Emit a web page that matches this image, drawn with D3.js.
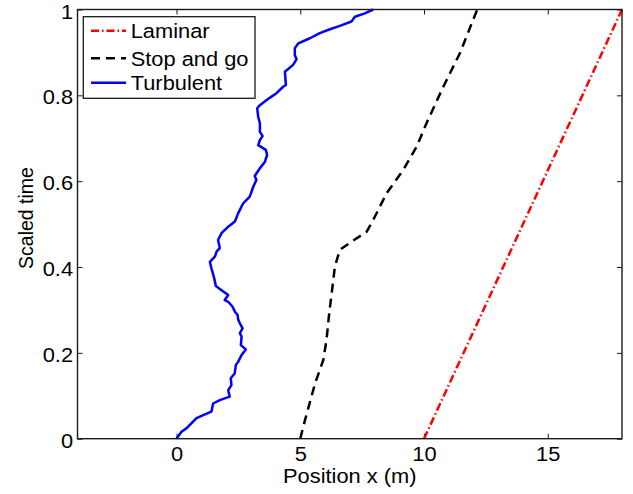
<!DOCTYPE html>
<html>
<head>
<meta charset="utf-8">
<script src="https://cdn.jsdelivr.net/npm/d3@7/dist/d3.min.js"></script>
<style>
  body { margin: 0; background: #fff; }
  svg { display: block; font-family: "Liberation Sans", Arial, Helvetica, sans-serif; }
</style>
</head>
<body>
<svg id="chart" width="633" height="494"></svg>
<script>
// series: [position x (m), scaled time]
var laminar = [[10, 0], [14, 0.5], [18, 1]];

var stopAndGo = [
    [5.0, 0], [5.19, 0.043], [5.60, 0.129], [5.93, 0.183], [6.06, 0.230], [6.17, 0.292],
    [6.27, 0.339], [6.40, 0.401], [6.60, 0.440], [7.07, 0.459], [7.68, 0.482], [7.95, 0.510],
    [8.49, 0.572], [9.16, 0.626], [9.70, 0.680], [10.10, 0.735], [10.78, 0.820], [11.45, 0.898],
    [12.15, 1.0]
];

var turbulent = [
    [0, 0], [0.20, 0.016], [0.40, 0.024], [0.67, 0.040], [0.81, 0.048], [1.08, 0.055],
    [1.41, 0.063], [1.48, 0.082], [1.75, 0.090], [2.15, 0.098], [2.09, 0.113], [2.22, 0.125],
    [2.19, 0.141], [2.35, 0.152], [2.40, 0.172], [2.49, 0.179], [2.63, 0.195], [2.80, 0.208],
    [2.60, 0.218], [2.63, 0.238], [2.56, 0.246], [2.67, 0.257], [2.56, 0.269], [2.49, 0.278],
    [2.47, 0.288], [2.36, 0.296], [2.26, 0.308], [2.09, 0.319], [1.95, 0.323], [2.09, 0.335],
    [1.82, 0.346], [1.59, 0.356], [1.51, 0.377], [1.41, 0.397], [1.35, 0.412], [1.55, 0.424],
    [1.62, 0.436], [1.75, 0.444], [1.68, 0.463], [1.82, 0.479], [2.09, 0.494], [2.36, 0.506],
    [2.49, 0.525], [2.69, 0.548], [2.96, 0.564], [3.10, 0.587], [3.23, 0.603], [3.16, 0.612],
    [3.37, 0.630], [3.57, 0.645], [3.66, 0.661], [3.61, 0.673], [3.30, 0.684], [3.37, 0.696],
    [3.48, 0.705], [3.37, 0.715], [3.37, 0.735], [3.30, 0.750], [3.26, 0.770], [3.37, 0.777],
    [3.64, 0.789], [3.84, 0.797], [4.04, 0.805], [4.31, 0.820], [4.42, 0.824], [4.38, 0.855],
    [4.71, 0.871], [4.85, 0.884], [4.78, 0.894], [4.78, 0.910], [4.92, 0.921], [5.39, 0.933],
    [5.79, 0.945], [6.20, 0.954], [6.60, 0.962], [7.07, 0.972], [7.21, 0.983], [7.61, 0.991],
    [7.95, 1.0]
];

var xTicks = [0, 5, 10, 15];
var yTicks = [0, 0.2, 0.4, 0.6, 0.8, 1];

var seriesNames = ["Laminar", "Stop and go", "Turbulent"];
var seriesColors = ["#ff0000", "#000000", "#0000ff"];
var seriesDash = ["8,3,1.5,3", "9,6", null];

var svg = d3.select("#chart");
var plotLeft = 77.5, plotRight = 622, plotTop = 9.5, plotBottom = 438.7;
var fontSize = 19.5, stretch = 1.12;

var x = d3.scaleLinear().domain([-4, 18]).range([plotLeft, plotRight]);
var y = d3.scaleLinear().domain([0, 1]).range([plotBottom, plotTop]);

// axes, ticks pointing inward on all four sides
svg.append("g")
    .attr("transform", "translate(0," + plotBottom + ")")
    .call(d3.axisBottom(x).tickValues(xTicks).tickSizeInner(-5).tickSizeOuter(0).tickPadding(8));
svg.append("g")
    .attr("transform", "translate(0," + plotTop + ")")
    .call(d3.axisTop(x).tickValues(xTicks).tickSizeInner(-5).tickSizeOuter(0).tickFormat(""));
var gy = svg.append("g")
    .attr("transform", "translate(" + plotLeft + ",0)")
    .call(d3.axisLeft(y).tickValues(yTicks).tickSizeInner(-5).tickSizeOuter(0).tickPadding(4)
        .tickFormat(d3.format("~g")));
svg.append("g")
    .attr("transform", "translate(" + plotRight + ",0)")
    .call(d3.axisRight(y).tickValues(yTicks).tickSizeInner(-5).tickSizeOuter(0).tickFormat(""));

svg.selectAll(".domain").remove();
svg.selectAll(".tick line").attr("stroke", "#1a1a1a").attr("stroke-width", 1);
svg.selectAll(".tick text")
    .attr("font-size", fontSize)
    .attr("fill", "#000")
    .attr("transform", "scale(" + stretch + ",1)");
svg.selectAll("g").attr("font-family", null);
gy.selectAll(".tick text").attr("dy", "0.44em");

// curves
var line = d3.line()
    .x(function (d) { return x(d[0]); })
    .y(function (d) { return y(d[1]); });

[laminar, stopAndGo, turbulent].forEach(function (data, i) {
    svg.append("path")
        .datum(data)
        .attr("fill", "none")
        .attr("stroke", seriesColors[i])
        .attr("stroke-width", 2.5)
        .attr("stroke-dasharray", seriesDash[i])
        .attr("stroke-linejoin", "round")
        .attr("d", line);
});

// frame
svg.append("rect")
    .attr("x", plotLeft).attr("y", plotTop)
    .attr("width", plotRight - plotLeft).attr("height", plotBottom - plotTop)
    .attr("fill", "none").attr("stroke", "#1a1a1a").attr("stroke-width", 1.4);

// legend
var legend = svg.append("g").attr("transform", "translate(83.3,16.7)");
legend.append("rect")
    .attr("width", 171.7).attr("height", 81.6)
    .attr("fill", "#fff").attr("stroke", "#1a1a1a").attr("stroke-width", 1.3);
var rowY = [14, 41.6, 66];
seriesNames.forEach(function (name, i) {
    legend.append("line")
        .attr("x1", 7.7).attr("x2", 42.7)
        .attr("y1", rowY[i]).attr("y2", rowY[i])
        .attr("stroke", seriesColors[i])
        .attr("stroke-width", 2.5)
        .attr("stroke-dasharray", seriesDash[i]);
    legend.append("text")
        .attr("transform", "translate(47.4," + (rowY[i] + 7.3) + ") scale(" + stretch + ",1)")
        .attr("font-size", fontSize)
        .text(name);
});

// axis titles
svg.append("text")
    .attr("transform", "translate(" + ((plotLeft + plotRight) / 2) + ",482.7) scale(" + stretch + ",1)")
    .attr("text-anchor", "middle")
    .attr("font-size", fontSize)
    .text("Position x (m)");

svg.append("text")
    .attr("transform", "translate(33,218) rotate(-90)")
    .attr("text-anchor", "middle")
    .attr("font-size", fontSize)
    .text("Scaled time");
</script>
</body>
</html>
